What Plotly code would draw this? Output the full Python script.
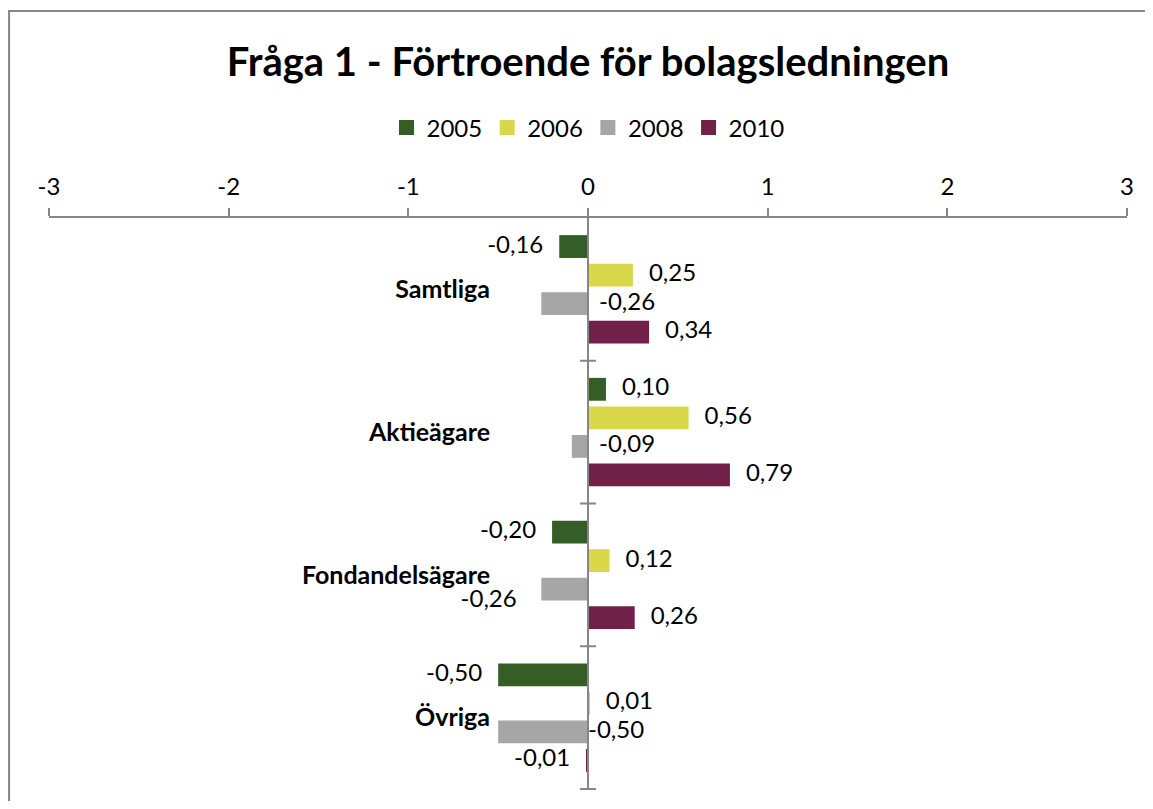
import plotly.graph_objects as go

# ---------------- data ----------------
categories = ["Samtliga", "Aktieägare", "Fondandelsägare", "Övriga"]
years = ["2005", "2006", "2008", "2010"]
v2005 = [-0.16, 0.10, -0.20, -0.50]
v2006 = [0.25, 0.56, 0.12, 0.01]
v2008 = [-0.26, -0.09, -0.26, -0.50]
v2010 = [0.34, 0.79, 0.26, -0.01]
x_ticks = [-3, -2, -1, 0, 1, 2, 3]

series = [v2005, v2006, v2008, v2010]
colors = ["#355E27", "#D8D84A", "#A6A6A6", "#71204A"]

FONT = "Lato, Carlito, Calibri, sans-serif"
AXIS = "#868686"

# the page body adds an 8px margin, so the figure is sized to fit the window
W, H = 1137, 793
L, T = 41, 210
PW, PH = 1080, 572
R, B = W - L - PW, H - T - PH


def fmt(v):
    return f"{v:.2f}".replace(".", ",")


# label placement: (anchor at bar end or at baseline, side, marker size for offset, pad)
def label_cfg(si, ci, v):
    if si == 2:  # 2008 labels placed as in the original
        cfg = [("zero", "middle right", 16, 0),
               ("zero", "middle right", 16, 0),
               ("end", "bottom left", 0, 4),
               ("zero", "middle right", 0, 0)]
        return cfg[ci]
    return ("end", "middle left" if v < 0 else "middle right", 24, 0)


fig = go.Figure()

for si, (yr, vals, col) in enumerate(zip(years, series, colors)):
    fig.add_trace(go.Bar(
        name=yr, x=vals, y=categories, orientation="h",
        marker=dict(color=col, line=dict(width=0)),
        offsetgroup=str(si), showlegend=False,
    ))

for si, (yr, vals) in enumerate(zip(years, series)):
    xs, pos, sizes, texts = [], [], [], []
    for ci, v in enumerate(vals):
        anchor, tp, sz, pad = label_cfg(si, ci, v)
        xs.append(v if anchor == "end" else 0)
        pos.append(tp)
        sizes.append(sz)
        texts.append(fmt(v) + "\u00a0" * pad)
    fig.add_trace(go.Scatter(
        x=xs, y=categories, orientation="h", mode="markers+text",
        text=texts, textposition=pos,
        textfont=dict(family=FONT, size=24, color="black"),
        marker=dict(size=sizes, color="rgba(0,0,0,0)", line=dict(width=0)),
        offsetgroup=str(si), showlegend=False, hoverinfo="skip",
        cliponaxis=False,
    ))

# legend entries with square swatches (on a hidden pair of axes)
for yr, col in zip(years, colors):
    fig.add_trace(go.Scatter(
        name=yr, x=[None], y=[None], mode="markers", xaxis="x2", yaxis="y2",
        marker=dict(symbol="square", size=15, color=col, line=dict(width=0)),
        hoverinfo="skip",
    ))

shapes = []
# cross ticks on the category axis at category boundaries
for k in range(1, len(categories) + 1):
    shapes.append(dict(type="line", xref="x", yref="y", xsizemode="pixel",
                       xanchor=0, x0=-8, x1=8, y0=k - 0.5, y1=k - 0.5,
                       line=dict(color=AXIS, width=2)))
# chart border
shapes.append(dict(type="rect", xref="paper", yref="paper",
                   x0=(1 - L) / PW, x1=(W + 20 - L) / PW,
                   y0=-(B + 20) / PH, y1=(T + PH - 3) / PH,
                   line=dict(color=AXIS, width=2), fillcolor="rgba(0,0,0,0)",
                   layer="below"))

fig.update_layout(
    width=W, height=H,
    margin=dict(l=L, r=R, t=T, b=B, pad=0),
    paper_bgcolor="white", plot_bgcolor="white",
    barmode="group", bargap=0.2, bargroupgap=0.2,
    scattermode="group", scattergap=0.2,
    font=dict(family=FONT, size=24, color="black"),
    title=dict(text="<b>Fråga 1 - Förtroende för bolagsledningen</b>",
               font=dict(family=FONT, size=40, color="black"),
               x=0.5, xref="paper", xanchor="center",
               y=1 - 54 / H, yref="container", yanchor="middle"),
    legend=dict(orientation="h", x=0.5, xanchor="center",
                y=(PH + T - 120) / PH, yanchor="middle",
                font=dict(family=FONT, size=24, color="black"),
                traceorder="normal", itemclick=False),
    xaxis=dict(range=[-3, 3], side="top", tickvals=x_ticks,
               ticktext=[str(t) for t in x_ticks],
               showgrid=False, zeroline=False,
               showline=True, linecolor=AXIS, linewidth=2,
               ticks="outside", ticklen=8, tickwidth=2, tickcolor=AXIS,
               ticklabelstandoff=3,
               tickfont=dict(family=FONT, size=24, color="black")),
    yaxis=dict(type="category", categoryorder="array", categoryarray=categories,
               autorange="reversed", anchor="free", position=0.5,
               showgrid=False, zeroline=False,
               showline=True, linecolor=AXIS, linewidth=2, ticks="",
               ticklabelstandoff=92,
               tickfont=dict(family=FONT, size=25, color="black", weight="bold")),
    xaxis2=dict(overlaying="x", range=[0, 1], visible=False),
    yaxis2=dict(overlaying="y", range=[0, 1], visible=False),
    shapes=shapes,
)

fig.write_html("out.html")
